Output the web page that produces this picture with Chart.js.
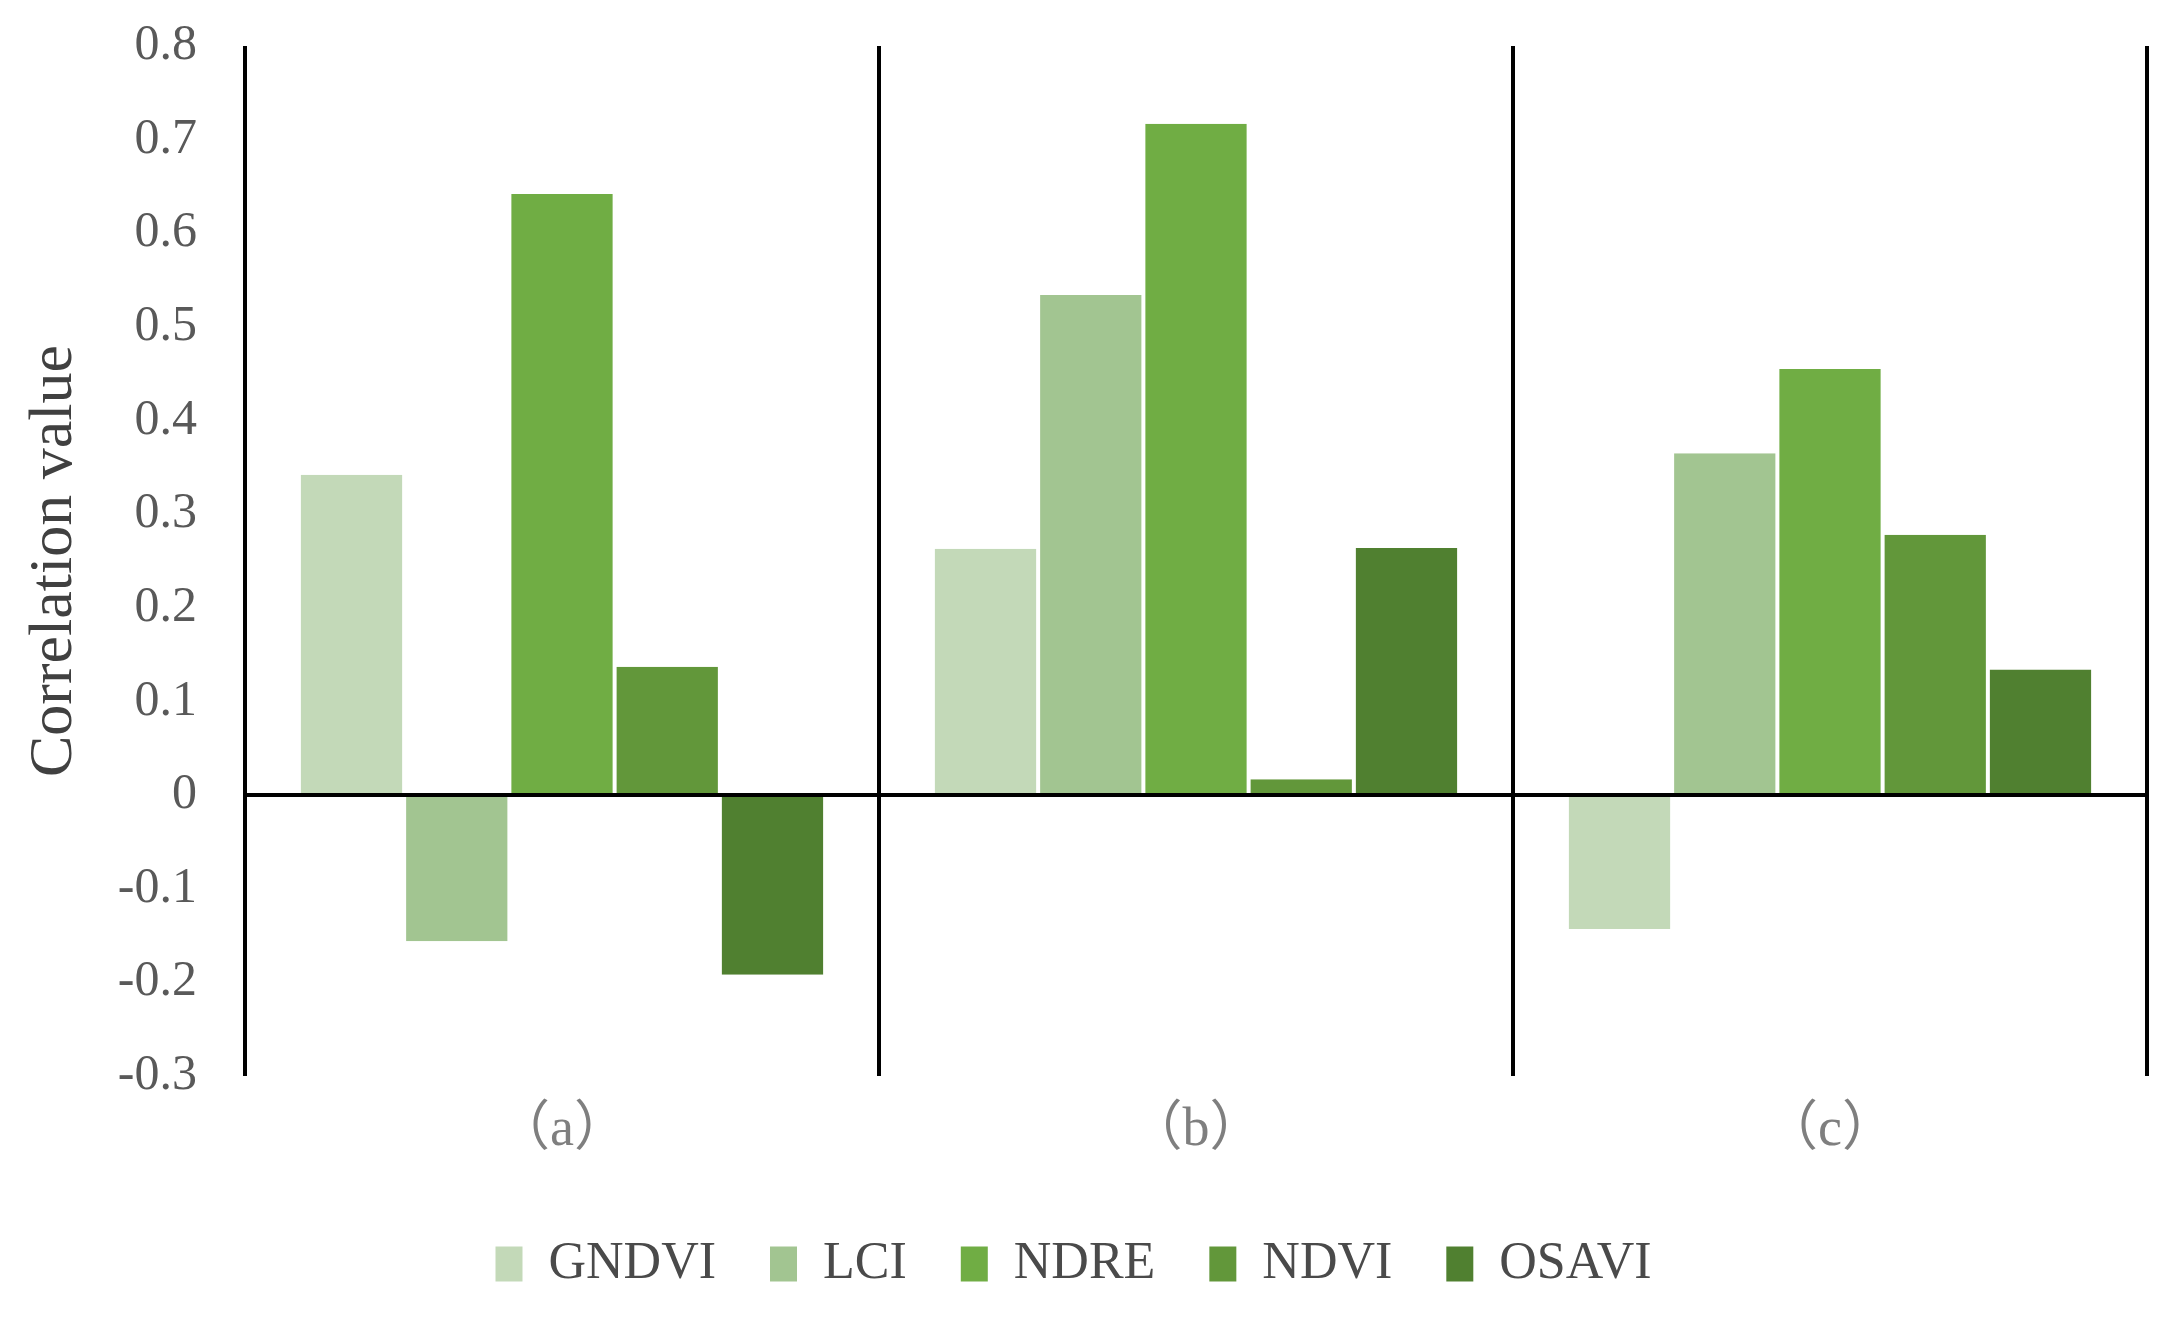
<!DOCTYPE html>
<html>
<head>
<meta charset="utf-8">
<script src="https://cdn.jsdelivr.net/npm/chart.js@4.4.1/dist/chart.umd.min.js"></script>
<style>
  html, body { margin: 0; padding: 0; background: #fff; }
  #wrap { width: 2173px; height: 1320px; position: relative; }
</style>
</head>
<body>
<div id="wrap"><canvas id="grafica"></canvas></div>
<script>
// Datos
const categorias = ['（a）', '（b）', '（c）'];
const series = ['GNDVI', 'LCI', 'NDRE', 'NDVI', 'OSAVI'];
const gndvi = [0.342, 0.263, -0.143];
const lci = [-0.156, 0.534, 0.365];
const ndre = [0.642, 0.717, 0.455];
const ndvi = [0.137, 0.017, 0.278];
const osavi = [-0.192, 0.264, 0.134];
const yMin = -0.3;
const yMax = 0.8;
const yPaso = 0.1;

const colores = ['#C3D9B8', '#A2C591', '#70AD44', '#62973A', '#508030'];
const valores = [gndvi, lci, ndre, ndvi, osavi];

const fuenteSerif = '"Liberation Serif", "Times New Roman", "Noto Sans CJK SC", serif';

const datasets = series.map((nombre, i) => ({
    label: nombre,
    data: valores[i],
    backgroundColor: colores[i],
    borderColor: '#ffffff',
    borderWidth: { left: 2, right: 2, top: 0, bottom: 0 },
    borderSkipped: false,
    barPercentage: 1,
    categoryPercentage: 0.83,
}));

new Chart(document.getElementById('grafica'), {
    type: 'bar',
    data: { labels: categorias, datasets: datasets },
    options: {
        responsive: true,
        maintainAspectRatio: false,
        animation: false,
        layout: { padding: { top: 46, right: 26, bottom: 20, left: 0 } },
        plugins: {
            tooltip: { enabled: false },
            legend: {
                position: 'bottom',
                labels: {
                    boxWidth: 27,
                    boxHeight: 35,
                    padding: 54,
                    color: '#4a4a4a',
                    font: { family: fuenteSerif, size: 52 },
                    generateLabels: (chart) => {
                        const items = Chart.defaults.plugins.legend.labels.generateLabels(chart);
                        items.forEach(it => { it.lineWidth = 0; it.strokeStyle = 'rgba(0,0,0,0)'; });
                        return items;
                    },
                },
            },
        },
        scales: {
            x: {
                grid: {
                    offset: true,
                    color: '#000000',
                    lineWidth: 4,
                    drawTicks: false,
                },
                border: { display: false },
                ticks: {
                    padding: 22,
                    color: '#7f7f7f',
                    font: { family: fuenteSerif, size: 54 },
                },
                afterFit: (scale) => { scale.height = 108; },
            },
            y: {
                min: yMin,
                max: yMax,
                z: 1,
                grid: {
                    drawTicks: false,
                    color: (ctx) => (ctx.tick && Math.abs(ctx.tick.value) < 1e-9 ? '#000000' : 'rgba(0,0,0,0)'),
                    lineWidth: 4,
                },
                border: { display: false },
                ticks: {
                    stepSize: yPaso,
                    padding: 48,
                    color: '#595959',
                    font: { family: fuenteSerif, size: 50 },
                    callback: (v) => Number(Number(v).toFixed(1)).toString(),
                },
                title: {
                    display: true,
                    text: 'Correlation value',
                    color: '#404040',
                    font: { family: fuenteSerif, size: 62, lineHeight: 1.2 },
                    padding: { top: 18, bottom: 0 },
                },
                afterFit: (scale) => {
                    scale.width = 245;
                    // el padding de los ticks no debe empujar el área hacia abajo
                    scale.paddingTop = 0;
                    scale.paddingBottom = 0;
                },
            },
        },
    },
});
</script>
</body>
</html>
